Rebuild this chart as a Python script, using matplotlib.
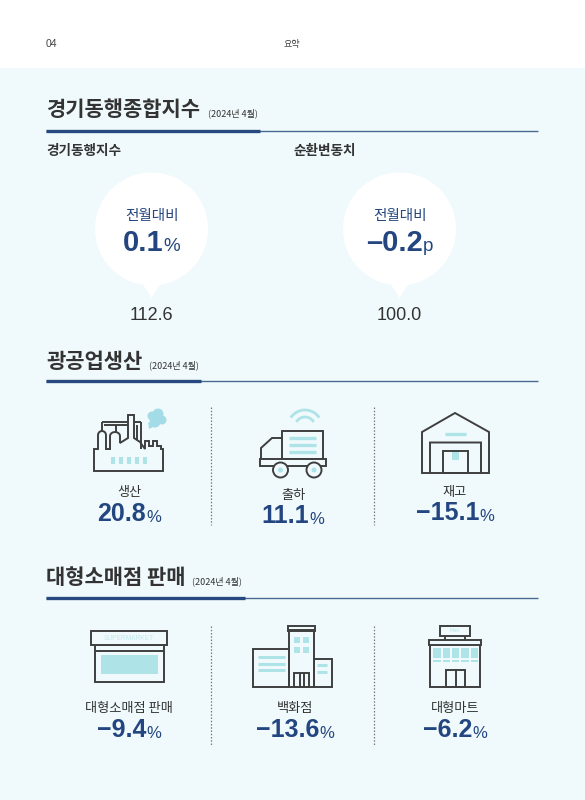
import numpy as np
from matplotlib import pyplot as plt
from matplotlib.patches import Circle, Polygon, Rectangle

KR = ["Noto Sans CJK KR", "DejaVu Sans"]
NUM = ["Liberation Sans", "DejaVu Sans"]

BG = "#f0fafc"
NAVY = "#234680"
DARK = "#333333"
LINE = "#3f3f3f"
AQUA = "#aee3e8"

# data
page_no = "04"
page_title = "요약"
section_titles = ["경기동행종합지수", "광공업생산", "대형소매점 판매"]
section_date = "(2024년 4월)"
index_labels = ["경기동행지수", "순환변동치"]
index_change = ["0.1", "–0.2"]
index_units = ["%", "p"]
index_levels = ["112.6", "100.0"]
bubble_label = "전월대비"
prod_labels = ["생산", "출하", "재고"]
prod_values = ["20.8", "11.1", "−15.1"]
retail_labels = ["대형소매점 판매", "백화점", "대형마트"]
retail_values = ["−9.4", "−13.6", "−6.2"]

fig = plt.figure(figsize=(5.85, 8), dpi=100, facecolor=BG)
ax = fig.add_axes([0, 0, 1, 1])
ax.set_xlim(0, 585)
ax.set_ylim(800, 0)
ax.axis("off")


def rect(x0, y0, x1, y1, fc="none", ec=LINE, lw=1.4, z=3):
    ax.add_patch(Rectangle((x0, y0), x1 - x0, y1 - y0, fc=fc, ec=ec, lw=lw, zorder=z))


def poly(pts, fc="none", ec=LINE, lw=1.4, closed=True, z=3):
    ax.add_patch(Polygon(pts, closed=closed, fc=fc, ec=ec, lw=lw, zorder=z, joinstyle="miter"))


def seg(x0, y0, x1, y1, c=LINE, lw=1.4, ls="-", z=3):
    ax.plot([x0, x1], [y0, y1], color=c, lw=lw, ls=ls, zorder=z, solid_capstyle="butt")


def txt(x, y, s, size, c=DARK, ha="center", weight="normal", family=KR):
    # the CJK font sits a bit high when centred
    if family is KR:
        y = y + 0.15 * size
    return ax.text(x, y, s, fontsize=size, color=c, ha=ha, va="center", fontweight=weight, family=family)


def number(cx, y, value, unit, size, unit_size, gap=-1.5):
    # number and unit have different sizes, so measure them and centre the pair
    r = fig.canvas.get_renderer()
    a = txt(0, y, value, size, NAVY, "left", "bold", NUM)
    b = txt(0, y + size * 0.19, unit, unit_size, NAVY, "left", "normal", NUM)
    wa = a.get_window_extent(r).width
    wb = b.get_window_extent(r).width
    left = cx - (wa + wb + gap) / 2
    a.set_x(left)
    b.set_x(left + wa + gap)


def section(i, y_title, y_rule, x_thick, x_date):
    txt(46, y_title - 1, section_titles[i], 15.1, DARK, "left", "bold")
    txt(x_date, y_title + 4, section_date, 6.5, DARK, "left")
    seg(46, y_rule, 538, y_rule, "#476a90", 1.0)
    seg(46, y_rule, x_thick, y_rule, "#27497f", 2.4, z=4)


def dividers(y0, y1):
    for x in (210.5, 374):
        seg(x, y0, x, y1, "#777777", 0.9, (0, (1.2, 1.4)))


def factory():
    cloud = [(152, 416, 4.5), (158, 414, 5.5), (162, 420, 4.5), (155, 422, 5.5)]
    for x, y, r in cloud:
        ax.add_patch(Circle((x, y), r, fc="#a3dce6", ec="none", zorder=2))
    poly([(148, 422), (149, 429), (155, 426)], fc="#a3dce6", ec="none", z=2)
    arch1 = [(102 + 4 * np.cos(t), 435 - 4 * np.sin(t)) for t in np.linspace(np.pi, 0, 9)]
    arch2 = [(115 + 5 * np.cos(t), 436 - 4 * np.sin(t)) for t in np.linspace(np.pi, 0, 9)]
    outline = [(94, 471), (94, 449), (98, 449)] + arch1 + [(106, 449), (110, 449)] + arch2
    outline += [(120, 443), (128, 438), (128, 415), (134, 415), (134, 438), (140, 442), (145, 449),
                (145, 441), (149, 441), (149, 446), (153, 446), (153, 441), (157, 441),
                (157, 446), (161, 446), (161, 449), (163, 449), (163, 471)]
    poly(outline, fc=BG)
    seg(102, 422, 128, 422)
    seg(134, 422, 141, 422)
    seg(102, 422, 102, 431)
    seg(141, 422, 141, 449)
    seg(104, 425, 128, 425)
    seg(116, 425, 116, 432)
    seg(137, 425, 137, 440)
    for x in (111, 119, 127, 135, 143):
        rect(x, 457, x + 4, 464, fc=AQUA, ec="none")


def truck():
    for r, w in ((17, 2.0), (10, 2.0)):
        t = np.linspace(np.radians(38), np.radians(142), 30)
        ax.plot(305 + r * np.cos(t), 427 - r * np.sin(t), color=AQUA, lw=w, zorder=3)
    rect(282, 431, 323, 459)
    poly([(261, 459), (261, 448), (272, 438), (282, 438)], closed=False)
    rect(260, 459, 325.5, 465.5, fc=BG)
    for x in (280.5, 314):
        ax.add_patch(Circle((x, 470), 7.5, fc=BG, ec=LINE, lw=1.4, zorder=4))
        ax.add_patch(Circle((x, 470), 2.5, fc=AQUA, ec="none", zorder=5))
    for y in (438, 445, 452):
        seg(289, y, 316, y, AQUA, 2.4)


def warehouse():
    poly([(422, 473), (422, 432), (455, 413), (489, 432), (489, 473), (481, 473),
          (481, 442.5), (430, 442.5), (430, 473)])
    rect(442.5, 451, 468, 473)
    seg(430, 473, 481, 473)
    rect(452, 451.5, 459, 460, fc=AQUA, ec="none")
    seg(445, 433.5, 466, 433.5, AQUA, 2.4)


def supermarket():
    rect(94.5, 645, 164, 682)
    seg(94.5, 651, 164, 651)
    rect(101, 655, 157.5, 674, fc=AQUA, ec="none")
    rect(90.7, 631, 167, 645, fc=BG)
    txt(129, 638, "SUPERMARKET", 4.8, "#c3e8ec", family=NUM)


def department():
    rect(252.7, 649, 289, 687)
    rect(314, 659, 332, 687)
    rect(289, 630, 314, 687)
    rect(288, 626, 315, 630.5)
    for x in (294, 303):
        for y in (637, 647):
            rect(x, y, x + 6, y + 6, fc=AQUA, ec="none")
    for y in (657, 664, 670):
        seg(258, y, 285, y, AQUA, 2.2)
    for y in (665, 672):
        seg(317, y, 327, y, AQUA, 2.2)
    rect(294, 673, 309, 687)
    seg(299.5, 673, 299.5, 687)
    seg(304, 673, 304, 687)


def mart():
    rect(440, 626, 470, 636)
    seg(445, 636, 445, 640)
    seg(465, 636, 465, 640)
    txt(455, 631, "Mart", 3.8, "#bfe6ea", family=NUM)
    rect(430, 644, 480, 687)
    rect(429, 640, 481, 644.5, fc=BG)
    for x0, x1 in ((433, 441), (443, 450), (452, 459), (461, 469), (471, 478)):
        rect(x0, 648, x1, 658, fc=AQUA, ec="none")
        rect(x0, 659.5, x1, 662, fc=AQUA, ec="none")
    rect(446, 670, 465, 687)
    seg(455.5, 670, 455.5, 687)


# header strip
rect(0, 0, 585, 68, fc="white", ec="none", lw=0, z=1)
txt(46, 44, page_no, 7.5, "#444444", "left", family=NUM)
txt(292, 44, page_title, 6.5, "#444444")

# composite index
section(0, 108, 131, 260, 208)
for i, cx in enumerate((151.5, 399.5)):
    txt(46 if i == 0 else 293, 150, index_labels[i], 9.8, DARK, "left", "bold")
    ax.add_patch(Circle((cx, 229), 56.5, fc="white", ec="none", zorder=2))
    poly([(cx - 10, 282), (cx, 298), (cx + 10, 282)], fc="white", ec="none", z=2)
    txt(cx, 214, bubble_label, 10.5, NAVY)
    number(cx, 243, index_change[i], index_units[i], 21, 13.5, gap=0.5)
    txt(cx, 316, index_levels[i], 13, DARK, family=NUM)

# mining and manufacturing
section(1, 360, 381, 201, 149)
dividers(407, 525)
factory()
truck()
warehouse()
for cx, lab, val, ly, vy in zip((129, 293, 455), prod_labels, prod_values, (491, 494, 491), (514, 516, 513)):
    txt(cx, ly, lab, 9.5, DARK)
    number(cx, vy, val, "%", 18, 12, gap=0.5)

# large retail
section(2, 576, 598, 245, 192)
dividers(626, 745)
supermarket()
department()
mart()
for cx, lab, val in zip((129, 295, 455), retail_labels, retail_values):
    txt(cx, 707, lab, 9.5, DARK)
    number(cx, 730, val, "%", 18, 12, gap=0.5)

fig.savefig("out.png", dpi=100, facecolor=BG)
